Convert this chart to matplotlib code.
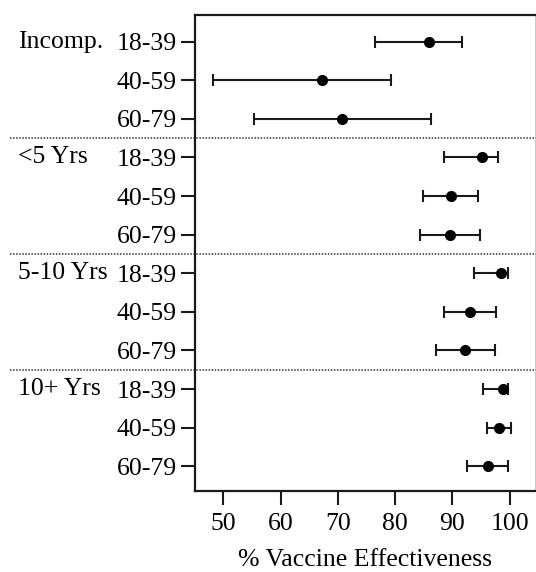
import matplotlib
matplotlib.use("Agg")
import matplotlib.pyplot as plt
import matplotlib.transforms as mtransforms

groups = ["Incomp.", "<5 Yrs", "5-10 Yrs", "10+ Yrs"]
ages = ["18-39", "40-59", "60-79"]
ve = [85.9, 67.3, 70.8, 95.2, 89.8, 89.6, 98.4, 93.1, 92.2, 98.8, 98.1, 96.2]
ci_low = [76.5, 48.2, 55.3, 88.6, 84.9, 84.3, 93.7, 88.5, 87.2, 95.4, 96.0, 92.6]
ci_high = [91.6, 79.3, 86.2, 97.9, 94.4, 94.8, 99.7, 97.6, 97.4, 99.7, 100.2, 99.7]
xticks = [50, 60, 70, 80, 90, 100]

plt.rcParams['font.family'] = ['Liberation Serif', 'DejaVu Serif']
FS = 18.5

fig = plt.figure(figsize=(5.36, 5.72), dpi=100)
ax = fig.add_axes([195/536, 1 - 491/572, (535 - 195)/536, (491 - 15)/572])

n = len(ve)
ypos = list(range(1, n + 1))
xerr = [[v - l for v, l in zip(ve, ci_low)], [h - v for v, h in zip(ve, ci_high)]]
ax.errorbar(ve, ypos, xerr=xerr, fmt='o', color='black', ms=7, elinewidth=1.5,
            capsize=4.5, capthick=1.5, ecolor='#1a1a1a')

ax.set_xlim(45.06, 104.4)
ax.set_ylim(12.64, 0.31)
ax.set_xticks(xticks)
ax.set_xticklabels([str(t) for t in xticks], fontsize=FS)
ax.set_yticks(ypos)
ax.set_yticklabels(ages * len(groups), fontsize=FS)
ax.tick_params(axis='both', direction='out', length=10, width=1.5, color='#1a1a1a')
ax.tick_params(axis='x', pad=6)
ax.tick_params(axis='y', pad=3)
for side, sp in ax.spines.items():
    sp.set_linewidth(1.6)
    sp.set_color('#1a1a1a')
ax.spines['right'].set_linewidth(0.6)
ax.spines['right'].set_color('#bbbbbb')

ax.set_xlabel("% Vaccine Effectiveness", fontsize=FS, labelpad=10)

trans = mtransforms.blended_transform_factory(fig.transFigure, ax.transData)
for gi, g in enumerate(groups):
    ax.text(18/536, gi * 3 + 1, g, transform=trans, ha='left', va='center',
            fontsize=FS)
for gi in range(1, len(groups)):
    ax.plot([10/536, 1.0], [gi * 3 + 0.5] * 2, transform=trans, clip_on=False,
            color='#333333', lw=1.1, linestyle=(0, (1, 1)))

fig.savefig("out.png", dpi=100)
